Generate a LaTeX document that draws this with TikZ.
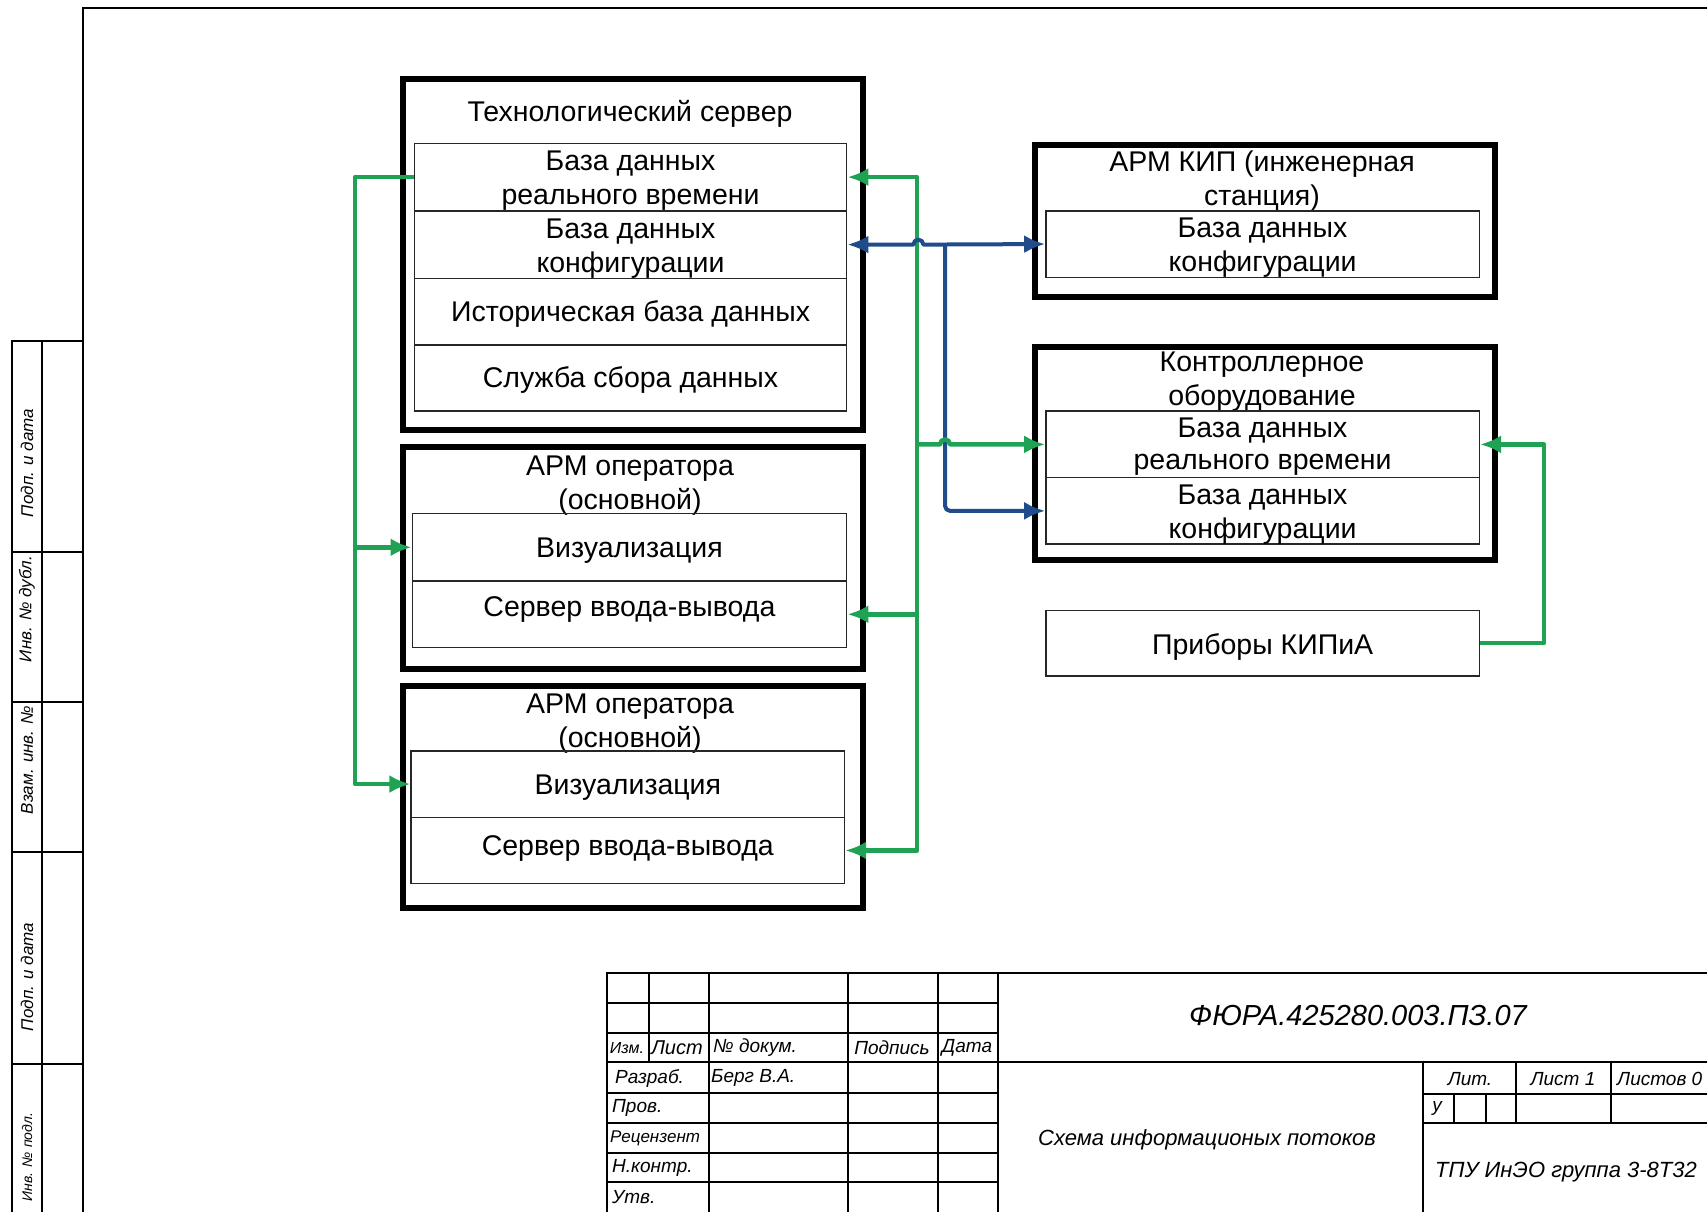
\documentclass[tikz,border=0pt]{standalone}
\usepackage{fontspec}
\setmainfont{Liberation Sans}
\usetikzlibrary{arrows.meta}
\definecolor{gcol}{RGB}{32,162,84}
\definecolor{bcol}{RGB}{33,76,140}
\newcommand\fsz[2]{\fontsize{#1}{#2}\selectfont}
\begin{document}
\begin{tikzpicture}[x=1pt,y=-1pt,
  >={Latex[length=21pt,width=18pt]},
  outerbox/.style={draw=black, line width=6pt, anchor=north west, inner sep=0pt, minimum width=460pt},
  cell/.style={draw=black!85, line width=1.5pt, anchor=north west, inner sep=0pt},
  ctext/.style={align=center, font=\fsz{28.5}{34}, inner sep=0pt},
  ttl/.style={align=center, font=\fsz{28.5}{34}, inner sep=0pt},
  gline/.style={draw=gcol, line width=4.5pt, line join=round},
  bline/.style={draw=bcol, line width=4pt, line join=round},
  thk/.style={line width=2.6pt},
  thn/.style={line width=1.4pt},
  tb/.style={font=\itshape\fsz{19}{19}, inner sep=0pt},
  strip/.style={font=\itshape\fsz{17}{17}, inner sep=0pt, rotate=90}
]
\useasboundingbox (0,0) rectangle (1707,1211);
\fill[white] (0,0) rectangle (1707,1211);
\clip (0,0) rectangle (1707,1211);

% ---------- frame and left strip ----------
\draw[line width=2.5pt] (83,1220) -- (83,8) -- (1720,8);
\draw[line width=1.8pt] (12,1220) -- (12,341) -- (83,341);
\draw[line width=1.8pt] (42,341) -- (42,1220);
\foreach \yy in {552,702,852,1064} \draw[line width=1.8pt] (12,\yy) -- (83,\yy);
\node[strip] (s1) at (27,463) {Подп. и дата};
\node[strip] (s2) at (27,609) {Инв. № дубл.};
\node[strip] (s3) at (27,760) {Взам. инв. №};
\node[strip] (s4) at (27,977) {Подп. и дата};
\node[strip, font=\itshape\fsz{14}{14}] (s5) at (27,1157) {Инв. № подл.};

% ---------- Технологический сервер ----------
\node[outerbox, minimum height=350.6pt] (ts) at (399.6,76.2) {};
\node[ttl] (tsT) at (630,114) {Технологический сервер};
\node[cell, minimum width=432.2pt, minimum height=67.5pt] (tsRT) at (413.7,142.6) {};
\node[cell, minimum width=432.2pt, minimum height=67.5pt] (tsCfg) at (413.7,210.1) {};
\node[cell, minimum width=432.2pt, minimum height=66.4pt] (tsHist) at (413.7,277.6) {};
\node[cell, minimum width=432.2pt, minimum height=66.4pt] (tsServ) at (413.7,344.0) {};
\node[ctext] (tsRTt) at ([yshift=-4pt]tsRT.center) {База данных\\реального времени};
\node[ctext] (tsCfgt) at ([yshift=-4pt]tsCfg.center) {База данных\\конфигурации};
\node[ctext] (tsHistt) at ([yshift=-2pt]tsHist.center) {Историческая база данных};
\node[ctext] (tsServt) at ([yshift=-2pt]tsServ.center) {Служба сбора данных};

% ---------- АРМ оператора 1 ----------
\node[outerbox, minimum height=222.1pt] (a1) at (399.6,444.2) {};
\node[ttl] (a1T) at (630,486) {АРМ оператора\\(основной)};
\node[cell, minimum width=434.4pt, minimum height=67.5pt] (a1viz) at (411.5,512.8) {};
\node[cell, minimum width=434.4pt, minimum height=66.4pt] (a1sio) at (411.5,580.3) {};
\node[ctext] (a1vizt) at ([yshift=-3pt]a1viz.center) {Визуализация};
\node[ctext] (a1siot) at ([yshift=5pt]a1sio.center) {Сервер ввода-вывода};

% ---------- АРМ оператора 2 ----------
\node[outerbox, minimum height=222.1pt] (a2) at (399.6,682.6) {};
\node[ttl] (a2T) at (630,723.5) {АРМ оператора\\(основной)};
\node[cell, minimum width=433.3pt, minimum height=66.4pt] (a2viz) at (410.4,750.1) {};
\node[cell, minimum width=433.3pt, minimum height=66.4pt] (a2sio) at (410.4,816.5) {};
\node[ctext] (a2vizt) at ([yshift=-4pt]a2viz.center) {Визуализация};
\node[ctext] (a2siot) at ([yshift=2pt]a2sio.center) {Сервер ввода-вывода};

% ---------- АРМ КИП ----------
\node[outerbox, minimum height=152.5pt] (kip) at (1032.1,141.5) {};
\node[ttl] (kipT) at (1262,181.5) {АРМ КИП (инженерная\\станция)};
\node[cell, minimum width=433.3pt, minimum height=66.4pt] (kipCfg) at (1045.2,210.1) {};
\node[ctext] (kipCfgt) at ([yshift=-4pt]kipCfg.center) {База данных\\конфигурации};

% ---------- Контроллерное оборудование ----------
\node[outerbox, minimum height=213.4pt] (ctl) at (1032.1,344) {};
\node[ttl] (ctlT) at (1262,381.5) {Контроллерное\\оборудование};
\node[cell, minimum width=433.3pt, minimum height=66.5pt] (kRT) at (1045.2,410.4) {};
\node[cell, minimum width=433.3pt, minimum height=66.4pt] (kCfg) at (1045.2,476.9) {};
\node[ctext, font=\fsz{28.5}{32}] (kRTt) at ([yshift=-2pt]kRT.center) {База данных\\реального времени};
\node[ctext] (kCfgt) at ([yshift=-4pt]kCfg.center) {База данных\\конфигурации};

% ---------- Приборы КИПиА ----------
\node[cell, minimum width=433.3pt, minimum height=65.3pt] (prib) at (1045.2,609.7) {};
\node[ctext] (pribt) at ([yshift=-4pt]prib.center) {Приборы КИПиА};

% ---------- connectors ----------
\coordinate (lb) at (355,0);
\coordinate (rb) at (917,0);
\coordinate (bv) at (945,0);
\coordinate (pr) at (1544,0);

\draw[gline,->] (tsRT.west) -| (lb |- a2viz.west) -- (a2viz.west);
\draw[gline,->] (lb |- a1viz.west) -- (a1viz.west);

\draw[gline,<->] (tsRT.east) -| (rb |- a2sio.east) -- (a2sio.east);
\draw[gline,->] (rb |- a1sio.east) -- (a1sio.east);

\draw[bline,<->] (tsCfg.east) -- ++(66,0) arc[start angle=180,end angle=0,radius=5pt] -- (kipCfg.west);
\draw[bline,->,rounded corners=5pt] (bv |- tsCfg.east) -- (bv |- kCfg.west) -- (kCfg.west);

\draw[gline,->] (rb |- kRT.west) -- ++(23,0) arc[start angle=180,end angle=0,radius=5pt] -- (kRT.west);

\draw[gline,->] (prib.east) -| (pr |- kRT.east) -- (kRT.east);

% ---------- title block ----------
\draw[thk] (607,1220) -- (607,973) -- (1720,973);
\foreach \xx in {709,848,938,998} \draw[thk] (\xx,973) -- (\xx,1220);
\draw[thk] (649,973) -- (649,1062);
\draw[thk] (607,1033) -- (998,1033);
\draw[thk] (607,1062) -- (1720,1062);
\draw[thn] (607,1003) -- (998,1003);
\foreach \yy in {1093,1123,1153,1182} \draw[thn] (607,\yy) -- (998,\yy);
\draw[thk] (1423,1062) -- (1423,1220);
\draw[thk] (1423,1123) -- (1720,1123);
\draw[thn] (1423,1094) -- (1720,1094);
\draw[thk] (1516,1062) -- (1516,1123);
\draw[thk] (1611,1062) -- (1611,1123);
\draw[thn] (1454,1094) -- (1454,1123);
\draw[thn] (1486,1094) -- (1486,1123);

\node[tb, font=\itshape\fsz{16}{16}] (tIzm) at (627,1048) {Изм.};
\node[tb, font=\itshape\fsz{20}{20}] (tList) at (677,1048) {Лист};
\node[tb, anchor=west] (tDoc) at (713,1048) {№ докум.};
\node[tb] (tPodp) at (892,1048) {Подпись};
\node[tb] (tData) at (967,1048) {Дата};
\node[tb, anchor=west] (tRazr) at (615,1078) {Разраб.};
\node[tb, anchor=west] (tBerg) at (711,1078) {Берг В.А.};
\node[tb, anchor=west] (tProv) at (612,1108) {Пров.};
\node[tb, anchor=west, font=\itshape\fsz{17}{17}] (tRec) at (610,1138) {Рецензент};
\node[tb, anchor=west] (tNk) at (612,1168) {Н.контр.};
\node[tb, anchor=west] (tUtv) at (612,1197) {Утв.};
\node[tb, font=\itshape\fsz{29}{29}] (tCode) at (1358,1015) {ФЮРА.425280.003.ПЗ.07};
\node[tb, font=\itshape\fsz{22}{22}] (tName) at (1207,1140) {Схема информационых потоков};
\node[tb] (tLit) at (1470,1079) {Лит.};
\node[tb] (tL1) at (1563,1079) {Лист 1};
\node[tb, anchor=west] (tLs) at (1617,1079) {Листов 0};
\node[tb] (tU) at (1437,1108) {у};
\node[tb, font=\itshape\fsz{22}{22}] (tOrg) at (1566,1172) {ТПУ ИнЭО группа 3-8Т32};
\end{tikzpicture}
\end{document}
